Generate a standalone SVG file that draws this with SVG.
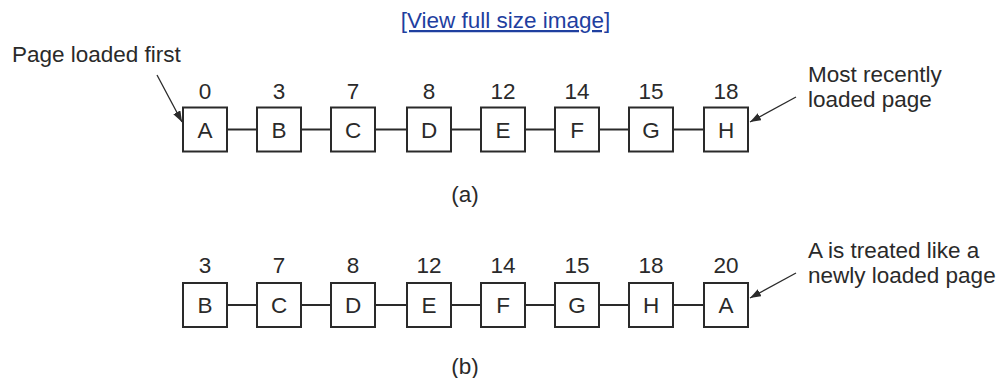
<svg xmlns="http://www.w3.org/2000/svg" width="1000" height="378" viewBox="0 0 1000 378">
<style>
  text { font-family: "Liberation Sans", Arial, sans-serif; font-size: 22.5px; fill: #2a2a2a; }
  .c { text-anchor: middle; }
  .box { fill: #ffffff; stroke: #2a2a2a; stroke-width: 2; }
  .link { stroke: #2a2a2a; stroke-width: 2; fill: none; }
  .arr { stroke: #2a2a2a; stroke-width: 1.3; fill: none; marker-end: url(#ah); }
  .url { fill: #1f3f9f; text-decoration: underline; }
</style>
<defs>
  <marker id="ah" markerUnits="userSpaceOnUse" markerWidth="12" markerHeight="8" refX="11" refY="4" orient="auto">
    <path d="M0,0 L11,4 L0,8 z" fill="#2a2a2a"/>
  </marker>
</defs>
<rect width="1000" height="378" fill="#ffffff"/>

<text id="viewlink" class="c url" x="505.5" y="28">[View full size image]</text>

<g id="connectors">
  <line class="link" x1="227" y1="129.5" x2="257" y2="129.5"/>
  <line class="link" x1="301" y1="129.5" x2="331" y2="129.5"/>
  <line class="link" x1="375" y1="129.5" x2="407" y2="129.5"/>
  <line class="link" x1="451" y1="129.5" x2="481" y2="129.5"/>
  <line class="link" x1="525" y1="129.5" x2="555" y2="129.5"/>
  <line class="link" x1="599" y1="129.5" x2="629" y2="129.5"/>
  <line class="link" x1="673" y1="129.5" x2="704" y2="129.5"/>
  <line class="link" x1="227" y1="305" x2="257" y2="305"/>
  <line class="link" x1="301" y1="305" x2="331" y2="305"/>
  <line class="link" x1="375" y1="305" x2="407" y2="305"/>
  <line class="link" x1="451" y1="305" x2="481" y2="305"/>
  <line class="link" x1="525" y1="305" x2="555" y2="305"/>
  <line class="link" x1="599" y1="305" x2="629" y2="305"/>
  <line class="link" x1="673" y1="305" x2="704" y2="305"/>
  <line class="arr" x1="157" y1="75" x2="182" y2="122"/>
  <line class="arr" x1="796" y1="97" x2="750" y2="122"/>
  <line class="arr" x1="796" y1="273" x2="750" y2="298"/>
</g>

<g id="label-a-first"><text x="12" y="62">Page loaded first</text></g>
<g id="label-a-recent"><text x="808" y="82">Most recently</text><text x="808" y="107">loaded page</text></g>
<g id="label-b-new"><text x="808" y="258">A is treated like a</text><text x="808" y="283">newly loaded page</text></g>

<g id="a-A"><rect class="box" x="183" y="107.5" width="44" height="44"/><text class="c" x="205" y="99">0</text><text class="c" x="205" y="137.5">A</text></g>
<g id="a-B"><rect class="box" x="257" y="107.5" width="44" height="44"/><text class="c" x="279" y="99">3</text><text class="c" x="279" y="137.5">B</text></g>
<g id="a-C"><rect class="box" x="331" y="107.5" width="44" height="44"/><text class="c" x="353" y="99">7</text><text class="c" x="353" y="137.5">C</text></g>
<g id="a-D"><rect class="box" x="407" y="107.5" width="44" height="44"/><text class="c" x="429" y="99">8</text><text class="c" x="429" y="137.5">D</text></g>
<g id="a-E"><rect class="box" x="481" y="107.5" width="44" height="44"/><text class="c" x="503" y="99">12</text><text class="c" x="503" y="137.5">E</text></g>
<g id="a-F"><rect class="box" x="555" y="107.5" width="44" height="44"/><text class="c" x="577" y="99">14</text><text class="c" x="577" y="137.5">F</text></g>
<g id="a-G"><rect class="box" x="629" y="107.5" width="44" height="44"/><text class="c" x="651" y="99">15</text><text class="c" x="651" y="137.5">G</text></g>
<g id="a-H"><rect class="box" x="704" y="107.5" width="44" height="44"/><text class="c" x="726" y="99">18</text><text class="c" x="726" y="137.5">H</text></g>
<g id="caption-a"><text class="c" x="465" y="202">(a)</text></g>

<g id="b-B"><rect class="box" x="183" y="283" width="44" height="44"/><text class="c" x="205" y="273">3</text><text class="c" x="205" y="313">B</text></g>
<g id="b-C"><rect class="box" x="257" y="283" width="44" height="44"/><text class="c" x="279" y="273">7</text><text class="c" x="279" y="313">C</text></g>
<g id="b-D"><rect class="box" x="331" y="283" width="44" height="44"/><text class="c" x="353" y="273">8</text><text class="c" x="353" y="313">D</text></g>
<g id="b-E"><rect class="box" x="407" y="283" width="44" height="44"/><text class="c" x="429" y="273">12</text><text class="c" x="429" y="313">E</text></g>
<g id="b-F"><rect class="box" x="481" y="283" width="44" height="44"/><text class="c" x="503" y="273">14</text><text class="c" x="503" y="313">F</text></g>
<g id="b-G"><rect class="box" x="555" y="283" width="44" height="44"/><text class="c" x="577" y="273">15</text><text class="c" x="577" y="313">G</text></g>
<g id="b-H"><rect class="box" x="629" y="283" width="44" height="44"/><text class="c" x="651" y="273">18</text><text class="c" x="651" y="313">H</text></g>
<g id="b-A"><rect class="box" x="704" y="283" width="44" height="44"/><text class="c" x="726" y="273">20</text><text class="c" x="726" y="313">A</text></g>
<g id="caption-b"><text class="c" x="465" y="374">(b)</text></g>
</svg>
